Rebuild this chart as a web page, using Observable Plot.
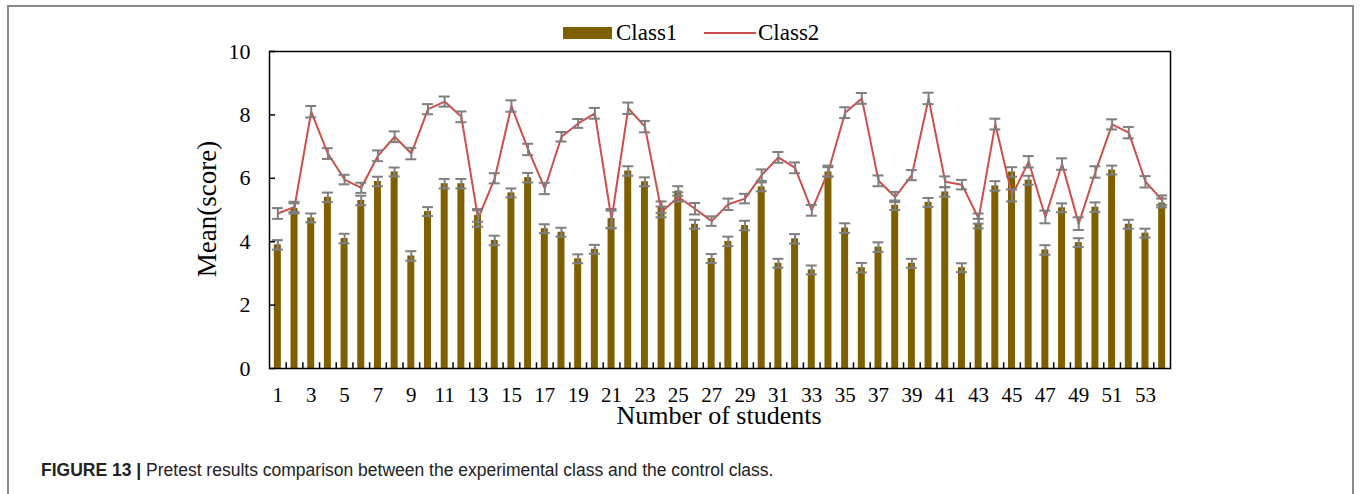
<!DOCTYPE html>
<html>
<head>
<meta charset="utf-8">
<script src="https://cdn.jsdelivr.net/npm/d3@7"></script>
<script src="https://cdn.jsdelivr.net/npm/@observablehq/plot@0.6"></script>
<style>
  html, body { margin: 0; padding: 0; background: #fff; }
  #wrap { position: relative; width: 1360px; height: 494px; overflow: hidden; }
  #border { position: absolute; left: 7px; top: 5px; width: 1347px; height: 520px;
            border: 2px solid #8a8a8a; box-sizing: border-box; }
  #chart { position: absolute; left: 0; top: 0; }
  .serif { font-family: "Liberation Serif", "Times New Roman", serif; color: #000; position: absolute; white-space: nowrap; }
  #caption { position: absolute; left: 41px; top: 459px; font-family: "Liberation Sans", Arial, sans-serif;
             font-size: 17.5px; line-height: 22px; color: #222; white-space: nowrap; }
</style>
</head>
<body>
<div id="wrap">
  <div id="border"></div>
  <div id="chart"></div>
  <div class="serif" style="left:563px; top:27px; width:49px; height:12px; background:#7f6000;"></div>
  <div class="serif" id="lg1" style="left:616px; top:18px; font-size:23px; line-height:30px;">Class1</div>
  <div class="serif" style="left:704px; top:32px; width:52px; height:2px; background:#cc4f4c;"></div>
  <div class="serif" id="lg2" style="left:758px; top:18px; font-size:23px; line-height:30px;">Class2</div>
  <div class="serif" id="xlabel" style="left:719px; top:405px; font-size:26px; line-height:22px; transform:translateX(-50%);">Number of students</div>
  <div class="serif" id="ylabel" style="left:207px; top:209px; font-size:27px; line-height:30px; transform:translate(-50%,-50%) rotate(-90deg);">Mean(score)</div>
  <div id="caption"><b>FIGURE 13 |</b> Pretest results comparison between the experimental class and the control class.</div>
</div>
<script>
const students = [1,2,3,4,5,6,7,8,9,10,11,12,13,14,15,16,17,18,19,20,21,22,23,24,25,26,27,
  28,29,30,31,32,33,34,35,36,37,38,39,40,41,42,43,44,45,46,47,48,49,50,51,52,53,54];
const class1 = [3.9, 5.05, 4.75, 5.4, 4.1, 5.3, 5.9, 6.2, 3.55, 4.95,
  5.83, 5.83, 4.83, 4.04, 5.54, 6.02, 4.41, 4.3, 3.46, 3.76,
  4.73, 6.23, 5.89, 5.09, 5.6, 4.55, 3.47, 4.01, 4.51, 5.73,
  3.32, 4.09, 3.11, 6.2, 4.43, 3.18, 3.83, 5.15, 3.32, 5.24,
  5.57, 3.18, 4.57, 5.76, 6.2, 5.94, 3.74, 5.07, 3.97, 5.09,
  6.26, 4.55, 4.27, 5.22];
const class2 = [4.89, 5.1, 8.1, 6.78, 5.96, 5.7, 6.71, 7.31, 6.78, 8.18,
  8.42, 7.94, 4.73, 6.0, 8.28, 6.91, 5.68, 7.31, 7.73, 8.05,
  4.7, 8.21, 7.63, 4.94, 5.41, 5.04, 4.65, 5.18, 5.36, 6.1,
  6.66, 6.33, 4.99, 6.23, 8.07, 8.52, 5.92, 5.41, 6.1, 8.52,
  5.89, 5.8, 4.73, 7.71, 5.46, 6.52, 4.78, 6.45, 4.57, 6.2,
  7.7, 7.44, 5.89, 5.31];
const err1 = [0.15, 0.16, 0.14, 0.15, 0.15, 0.15, 0.15, 0.14, 0.15, 0.14,
  0.15, 0.15, 0.2, 0.15, 0.14, 0.15, 0.14, 0.14, 0.14, 0.14,
  0.3, 0.15, 0.14, 0.18, 0.15, 0.14, 0.14, 0.15, 0.15, 0.14,
  0.14, 0.15, 0.14, 0.15, 0.15, 0.15, 0.15, 0.15, 0.14, 0.14,
  0.15, 0.14, 0.15, 0.15, 0.15, 0.14, 0.15, 0.14, 0.14, 0.15,
  0.14, 0.14, 0.14, 0.14];
const err2 = [0.17, 0.16, 0.18, 0.17, 0.15, 0.16, 0.17, 0.17, 0.18, 0.16,
  0.16, 0.17, 0.26, 0.16, 0.18, 0.18, 0.18, 0.15, 0.14, 0.17,
  0.28, 0.18, 0.18, 0.17, 0.15, 0.18, 0.15, 0.18, 0.15, 0.18,
  0.17, 0.17, 0.17, 0.17, 0.17, 0.17, 0.17, 0.16, 0.16, 0.18,
  0.17, 0.15, 0.16, 0.17, 0.19, 0.18, 0.2, 0.18, 0.2, 0.18,
  0.16, 0.18, 0.18, 0.15];
const xTickLabels = [1,3,5,7,9,11,13,15,17,19,21,23,25,27,29,31,33,35,37,39,41,43,45,47,49,51,53];
const yTicks = [0, 2, 4, 6, 8, 10];

const data = students.map((s, i) => ({student: s, c1: class1[i], c2: class2[i], e1: err1[i], e2: err2[i]}));

const W = 1360, H = 494, mL = 269, mR = 190, mT = 51, mB = 126;
const bw = (W - mL - mR) / students.length;
const barW = 7, capW = 11;
const grey = "#7f7f7f";
const red = "#cc4f4c";

const chart = Plot.plot({
  width: W, height: H,
  marginLeft: mL, marginRight: mR, marginTop: mT, marginBottom: mB,
  style: {fontFamily: "Liberation Serif", background: "transparent", color: "#000"},
  x: {type: "band", domain: students, padding: 0},
  y: {domain: [0, 10]},
  marks: [
    Plot.barY(data, {x: "student", y: "c1", fill: "#7f6000", insetLeft: (bw - barW) / 2, insetRight: (bw - barW) / 2}),
    Plot.ruleX(data, {x: "student", y1: d => d.c1 - d.e1, y2: d => d.c1 + d.e1, stroke: grey, strokeWidth: 2}),
    Plot.tickY(data, {x: "student", y: d => d.c1 - d.e1, stroke: grey, strokeWidth: 2, insetLeft: (bw - capW) / 2, insetRight: (bw - capW) / 2}),
    Plot.tickY(data, {x: "student", y: d => d.c1 + d.e1, stroke: grey, strokeWidth: 2, insetLeft: (bw - capW) / 2, insetRight: (bw - capW) / 2}),
    Plot.line(data, {x: "student", y: "c2", stroke: red, strokeWidth: 2}),
    Plot.ruleX(data, {x: "student", y1: d => d.c2 - d.e2, y2: d => d.c2 + d.e2, stroke: grey, strokeWidth: 2}),
    Plot.tickY(data, {x: "student", y: d => d.c2 - d.e2, stroke: grey, strokeWidth: 2, insetLeft: (bw - capW) / 2, insetRight: (bw - capW) / 2}),
    Plot.tickY(data, {x: "student", y: d => d.c2 + d.e2, stroke: grey, strokeWidth: 2, insetLeft: (bw - capW) / 2, insetRight: (bw - capW) / 2}),
    // inward x ticks between bars
    Plot.ruleX(students.slice(0, -1), {x: d => d, y1: 0, y2: 0.18, dx: bw / 2, stroke: "#000", strokeWidth: 1.5}),
    // inward y ticks
    Plot.tickY(yTicks, {x: () => students[0], y: d => d, stroke: "#000", strokeWidth: 1.5, insetRight: bw - 6}),
    Plot.axisX({ticks: xTickLabels, tickSize: 0, tickPadding: 19, fontSize: 21, label: null}),
    Plot.axisY({ticks: yTicks, tickSize: 0, tickPadding: 19, fontSize: 22, label: null}),
    Plot.frame({stroke: "#000", strokeWidth: 1.5})
  ]
});
document.getElementById("chart").appendChild(chart);
</script>
</body>
</html>
